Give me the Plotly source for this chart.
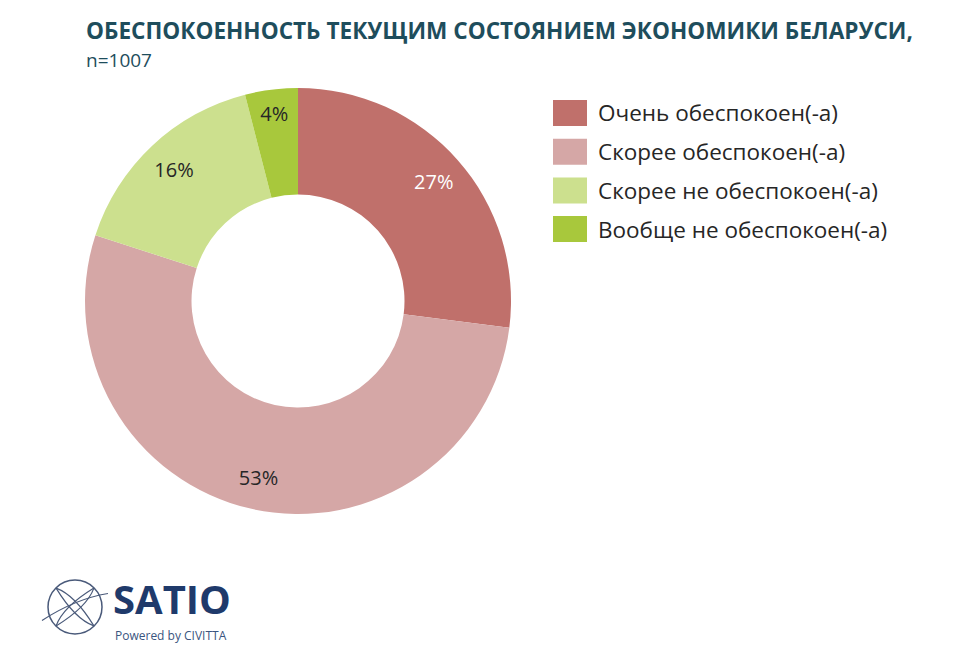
import plotly.graph_objects as go

labels = ["Очень обеспокоен(-а)", "Скорее обеспокоен(-а)", "Скорее не обеспокоен(-а)", "Вообще не обеспокоен(-а)"]
values = [27, 53, 16, 4]
colors = ["#C0706B", "#D5A7A6", "#CCE08E", "#A8C83C"]
text_colors = ["white", "#262626", "#262626", "#262626"]

title_main = "ОБЕСПОКОЕННОСТЬ ТЕКУЩИМ СОСТОЯНИЕМ ЭКОНОМИКИ БЕЛАРУСИ,"
title_sub = "n=1007"

W, H = 960, 656
FONT = "Open Sans, sans-serif"
dom = dict(x=[(298 - 213) / W, (298 + 213) / W], y=[(656 - 514) / H, (656 - 88) / H])
fig = go.Figure()
fig.add_trace(go.Pie(
    labels=labels, values=values, hole=0.5, sort=False, direction="clockwise",
    rotation=0, marker=dict(colors=colors, line=dict(width=0)),
    textinfo="none", domain=dom, showlegend=False, hoverinfo="label+percent",
))
# label ring (transparent) to place percentages toward the outer edge
fig.add_trace(go.Pie(
    labels=labels, values=values, hole=0.7, sort=False, direction="clockwise",
    rotation=0, marker=dict(colors=["rgba(0,0,0,0)"] * len(values), line=dict(width=0)),
    texttemplate="%{value}%", textposition="inside", insidetextorientation="horizontal",
    textfont=dict(family=FONT, size=20, color=text_colors),
    domain=dom, showlegend=False, hoverinfo="skip",
))

shapes = []
annotations = []
# custom legend
for i, (lab, col) in enumerate(zip(labels, colors)):
    yc = 113 + i * 38.7
    shapes.append(dict(type="rect", xref="paper", yref="paper",
                       x0=553 / W, x1=587 / W, y0=(H - yc - 13) / H, y1=(H - yc + 13) / H,
                       fillcolor=col, line=dict(width=0)))
    annotations.append(dict(text=lab, xref="paper", yref="paper", x=596 / W, y=(H - yc) / H,
                            xanchor="left", yanchor="middle", showarrow=False,
                            font=dict(family=FONT, size=22.5, color="#262626")))

annotations.append(dict(text="<b>" + title_main + "</b>", xref="paper", yref="paper", x=84 / W, y=(H - 30) / H,
                        xanchor="left", yanchor="middle", showarrow=False,
                        font=dict(family=FONT, size=22.6, color="#1E4D5C")))
annotations.append(dict(text=title_sub, xref="paper", yref="paper", x=84 / W, y=(H - 60) / H,
                        xanchor="left", yanchor="middle", showarrow=False,
                        font=dict(family=FONT, size=19, color="#1E4D5C")))

# logo
annotations.append(dict(text="<b>SATIO</b>", xref="paper", yref="paper", x=111 / W, y=(H - 598) / H,
                        xanchor="left", yanchor="middle", showarrow=False,
                        font=dict(family=FONT, size=40, color="#1F3A6B")))
annotations.append(dict(text="Powered by CIVITTA", xref="paper", yref="paper", x=113 / W, y=(H - 635) / H,
                        xanchor="left", yanchor="middle", showarrow=False,
                        font=dict(family=FONT, size=12, color="#3A5580")))
gx, gy, gr = 75, 607, 27
gcol = "#4A5A7A"
shapes.append(dict(type="circle", xref="paper", yref="paper",
                   x0=(gx - gr) / W, x1=(gx + gr) / W, y0=(H - gy - gr) / H, y1=(H - gy + gr) / H,
                   line=dict(color=gcol, width=1.5)))
for dx in (-12, 12):
    shapes.append(dict(type="path", xref="paper", yref="paper",
                       path=f"M {(gx - gr*0.7)/W} {(H-gy-gr*0.7)/H} Q {(gx+dx)/W} {(H-gy)/H} {(gx + gr*0.7)/W} {(H-gy+gr*0.7)/H}",
                       line=dict(color=gcol, width=1.2)))
    shapes.append(dict(type="path", xref="paper", yref="paper",
                       path=f"M {(gx - gr*0.7)/W} {(H-gy+gr*0.7)/H} Q {(gx)/W} {(H-gy+dx)/H} {(gx + gr*0.7)/W} {(H-gy-gr*0.7)/H}",
                       line=dict(color=gcol, width=1.2)))
shapes.append(dict(type="path", xref="paper", yref="paper",
                   path=f"M {(gx-gr-6)/W} {(H-gy-gr*0.5)/H} Q {(gx)/W} {(H-gy+gr*0.3)/H} {(gx+gr+6)/W} {(H-gy+gr*0.5)/H}",
                   line=dict(color=gcol, width=1.2)))

fig.update_layout(width=W, height=H, margin=dict(l=0, r=0, t=0, b=0),
                  paper_bgcolor="white", plot_bgcolor="white",
                  shapes=shapes, annotations=annotations)
fig.write_html("out.html")
